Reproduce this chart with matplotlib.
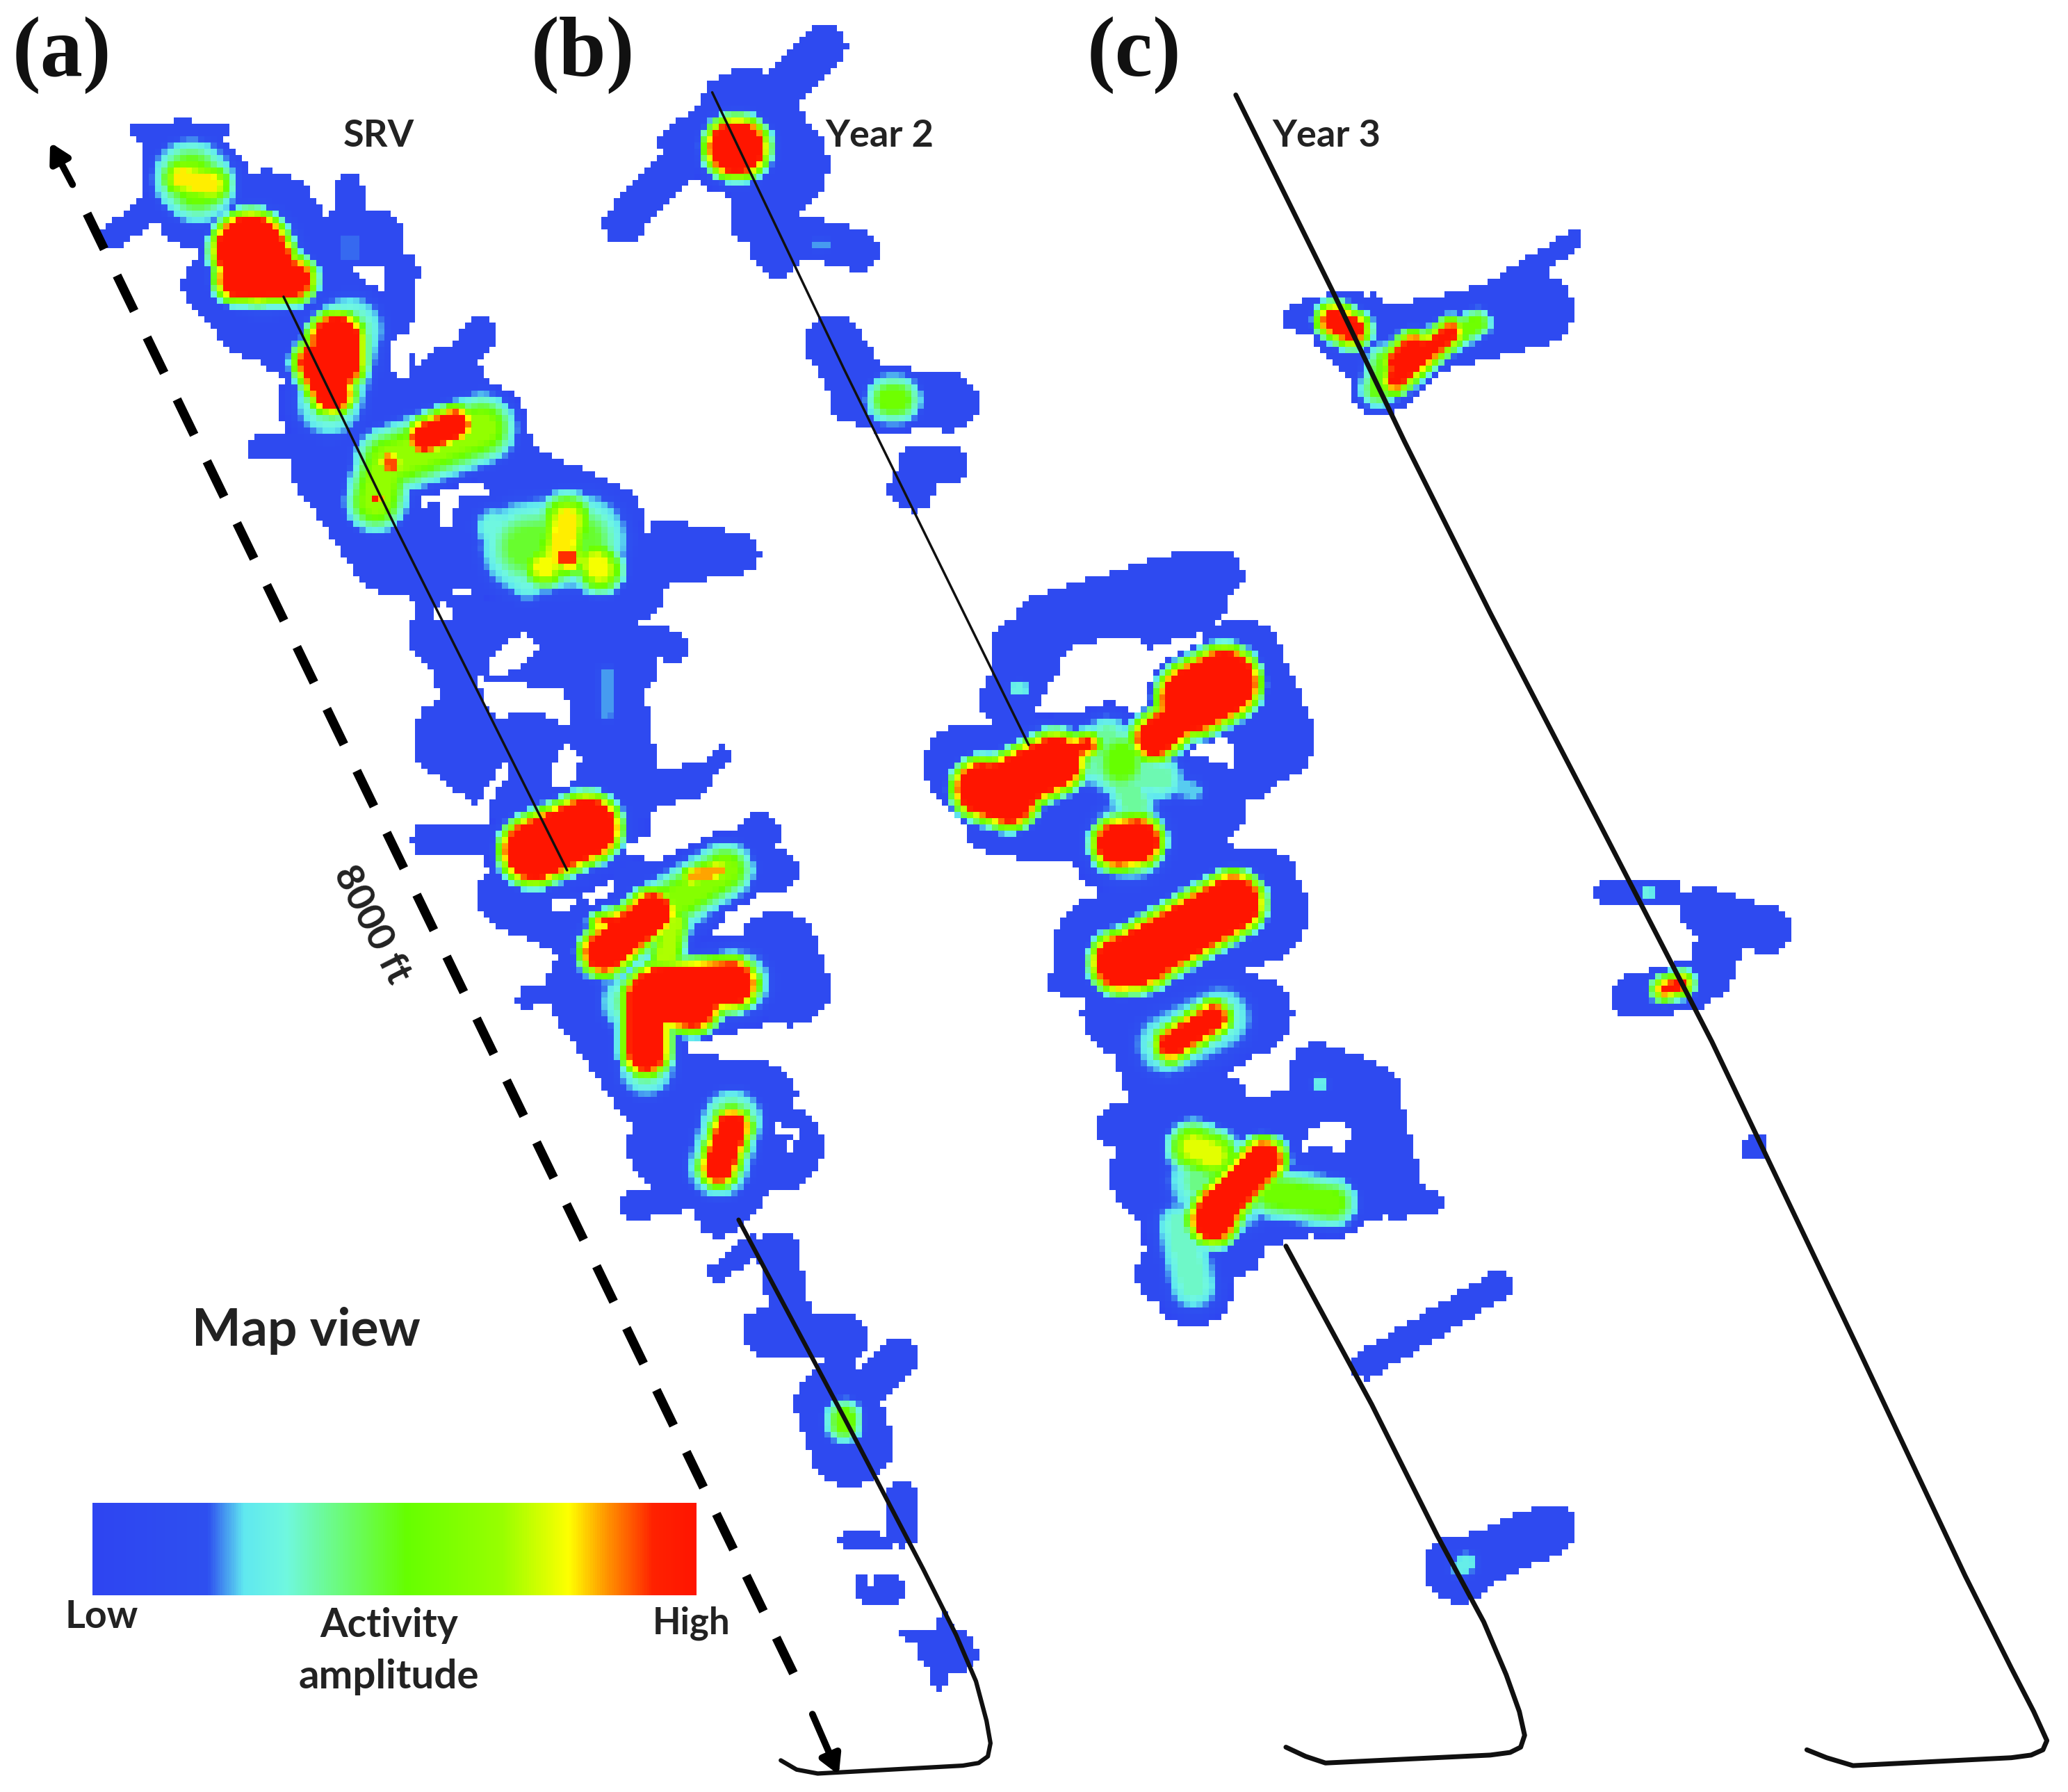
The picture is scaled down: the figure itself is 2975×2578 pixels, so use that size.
import numpy as np
import matplotlib
matplotlib.use('Agg')
from matplotlib import pyplot as plt
from matplotlib.colors import LinearSegmentedColormap

# activity patches, picture units (1568 wide)
# each one is x0, y0, x1, y1, radius, amplitude
srv_patches = [
    # low activity
    (108, 100, 165, 100, 8, .1), (140, 125, 150, 155, 34, .1), (85, 180, 125, 150, 10, .1),
    (265, 140, 265, 195, 10, .1), (245, 185, 285, 180, 22, .1), (200, 175, 225, 240, 46, .1),
    (160, 215, 190, 250, 22, .1), (305, 205, 295, 280, 13, .1), (240, 240, 290, 320, 46, .1),
    (365, 252, 325, 305, 13, .1), (340, 290, 395, 365, 26, .1), (198, 340, 260, 340, 10, .1),
    (255, 350, 300, 415, 36, .1), (385, 355, 465, 390, 22, .1), (350, 410, 470, 440, 36, .1),
    (505, 410, 560, 420, 16, .1), (475, 430, 540, 425, 14, .1), (325, 440, 350, 530, 16, .1),
    (340, 480, 470, 500, 30, .1), (460, 480, 510, 490, 12, .1), (455, 500, 470, 590, 30, .1),
    (345, 560, 400, 600, 32, .1), (325, 636, 400, 636, 13, .1), (400, 560, 480, 600, 22, .1),
    (490, 600, 525, 592, 13, .1), (548, 572, 525, 600, 7, .1), (385, 680, 430, 700, 24, .1),
    (400, 757, 455, 740, 8, .1), (575, 632, 545, 665, 16, .1), (590, 720, 600, 748, 30, .1),
    (480, 670, 590, 660, 16, .1), (445, 750, 500, 830, 32, .1), (500, 820, 580, 830, 24, .1),
    (480, 915, 530, 905, 11, .1), (510, 870, 590, 870, 34, .1), (545, 920, 565, 900, 18, .1),
    (570, 945, 545, 965, 8, .1), (590, 950, 600, 1000, 16, .1), (580, 1010, 640, 1015, 18, .1),
    (680, 1030, 660, 1050, 16, .1), (635, 1065, 645, 1095, 32, .1), (685, 1135, 685, 1160, 12, .1),
    (642, 1168, 680, 1170, 6, .1), (660, 1205, 672, 1205, 13, .1), (715, 1252, 720, 1252, 19, .1),
    (688, 1240, 740, 1256, 5, .1), (715, 1230, 712, 1275, 6, .1),
    # warmer patches
    (145, 135, 150, 140, 40, .6), (138, 135, 160, 140, 24, .8),
    (195, 190, 200, 205, 48, .42), (265, 250, 250, 305, 40, .42),
    (295, 350, 365, 325, 36, .66), (285, 380, 290, 360, 32, .66), (295, 350, 297, 352, 16, .9),
    (285, 378, 287, 378, 9, 1), (400, 415, 440, 410, 52, .48), (375, 400, 400, 440, 28, .32),
    (430, 395, 425, 420, 30, .8), (412, 430, 414, 430, 24, .78), (455, 432, 452, 428, 26, .78),
    (428, 422, 432, 424, 18, .92), (460, 510, 460, 540, 14, .22),
    (640, 1080, 640, 1075, 21, .55), (265, 190, 265, 185, 8, .2),
    (410, 645, 450, 628, 46, .25), (460, 720, 520, 680, 36, .42), (500, 690, 550, 660, 30, .62),
    (525, 665, 545, 660, 14, .84), (480, 760, 560, 745, 38, .42), (490, 770, 490, 810, 34, .4),
    (510, 700, 505, 725, 20, .7), (545, 885, 555, 850, 34, .5),
    # red cores
    (190, 190, 195, 200, 35, 1), (180, 212, 222, 212, 22, 1),
    (255, 258, 255, 275, 27, 1), (240, 275, 252, 298, 22, 1),
    (322, 332, 345, 322, 19, 1),
    (405, 645, 445, 628, 31, 1),
    (458, 722, 495, 692, 23, 1), (455, 700, 505, 685, 11, 1),
    (500, 750, 555, 746, 25, 1), (490, 755, 490, 798, 23, 1), (497, 755, 525, 760, 28, 1),
    (545, 885, 555, 855, 20, 1),
]

year2_patches = [
    (625, 35, 590, 70, 17, .1), (565, 90, 590, 125, 38, .1), (530, 105, 472, 170, 15, .1),
    (520, 110, 560, 90, 20, .1),
    (570, 170, 650, 190, 16, .1), (575, 150, 590, 190, 20, .1), (632, 260, 650, 290, 22, .1),
    (650, 300, 720, 305, 22, .1), (695, 352, 720, 352, 15, .1), (690, 370, 692, 372, 16, .1),
    (800, 480, 900, 450, 32, .1), (770, 490, 800, 480, 20, .1), (765, 530, 780, 500, 22, .1),
    (880, 440, 925, 435, 18, .1), (940, 500, 965, 560, 32, .1), (975, 565, 950, 590, 16, .1),
    (730, 580, 830, 570, 30, .1), (760, 620, 830, 625, 30, .1), (870, 600, 910, 610, 35, .1),
    (880, 660, 960, 670, 25, .1), (840, 720, 950, 690, 42, .1), (805, 745, 850, 745, 10, .1),
    (850, 770, 950, 770, 30, .1), (870, 800, 880, 830, 24, .1), (1000, 815, 1040, 830, 24, .1),
    (1040, 850, 1050, 890, 26, .1), (1000, 890, 1060, 905, 20, .1), (850, 855, 1000, 845, 18, .1),
    (880, 890, 950, 880, 38, .1), (1050, 908, 1085, 912, 10, .1), (885, 965, 935, 945, 24, .1),
    (960, 925, 1040, 905, 20, .1), (885, 815, 935, 830, 12, .1),
    # warmer patches
    (557, 112, 560, 112, 38, .5), (675, 303, 680, 303, 27, .55), (620, 185, 625, 185, 10, .22),
    (790, 570, 880, 590, 30, .36), (850, 575, 850, 580, 36, .52), (840, 560, 860, 610, 28, .38),
    (870, 590, 905, 600, 18, .24), (855, 638, 857, 638, 46, .42),
    (770, 522, 775, 522, 10, .3), (1000, 822, 1002, 822, 11, .28), (885, 792, 925, 772, 40, .36),
    (905, 870, 920, 876, 28, .76), (965, 905, 1010, 912, 28, .55), (895, 930, 905, 975, 32, .34),
    (915, 895, 935, 905, 46, .4),
    # red cores
    (557, 112, 560, 112, 28, 1),
    (755, 600, 800, 578, 28, 1), (745, 598, 765, 605, 28, 1), (800, 572, 825, 565, 14, 1),
    (875, 560, 900, 540, 22, 1), (905, 530, 928, 518, 33, 1),
    (848, 640, 862, 638, 25, 1),
    (860, 728, 935, 685, 29, 1), (850, 730, 870, 725, 28, 1),
    (888, 792, 920, 772, 18, 1),
    (925, 915, 958, 880, 22, 1), (920, 925, 925, 915, 24, 1),
]

year3_patches = [
    (985, 240, 1040, 235, 12, .1), (1020, 245, 1055, 285, 26, .1), (1060, 260, 1165, 235, 28, .1),
    (1130, 222, 1192, 183, 8, .1), (1220, 677, 1265, 677, 11, .1), (1290, 690, 1340, 705, 18, .1),
    (1305, 715, 1295, 740, 18, .1), (1240, 755, 1285, 748, 18, .1), (1333, 870, 1328, 870, 9, .1),
    (1035, 1035, 1135, 975, 11, .1), (1108, 1188, 1175, 1160, 20, .1), (1105, 1190, 1108, 1190, 26, .1),
    # warmer patches
    (1248, 677, 1250, 677, 10, .3), (1108, 1188, 1112, 1185, 17, .28), (1015, 245, 1020, 248, 24, .45),
    (1060, 280, 1120, 245, 17, .55), (1050, 275, 1045, 295, 22, .5),
    # red cores
    (1012, 243, 1025, 250, 18, 1), (1058, 288, 1100, 252, 15, 1), (1062, 275, 1072, 265, 18, 1),
    (1262, 750, 1275, 746, 13, 1),
]

# gaps inside the low activity areas: x0, y0, x1, y1, radius
gaps = [
    (305, 262, 305, 278, 7), (340, 380, 338, 392, 6), (398, 490, 378, 505, 9), (336, 464, 336, 466, 6),
    (405, 536, 412, 534, 7), (431, 575, 425, 590, 9), (363, 618, 382, 584, 4), (492, 639, 480, 645, 6),
    (422, 687, 430, 685, 5), (577, 796, 585, 800, 6), (598, 869, 600, 872, 3), (590, 855, 605, 860, 3),
    (825, 512, 852, 506, 23), (1000, 862, 1014, 860, 9), (668, 1180, 660, 1200, 3), (680, 1175, 690, 1190, 3),
]

# well paths
well_a_x = [215, 300, 430]
well_a_y = [225, 400, 660]
well_a_low_x = [560, 640, 700, 725, 740, 748, 751, 749, 742, 730, 620, 604, 592]
well_a_low_y = [925, 1075, 1190, 1240, 1275, 1305, 1322, 1332, 1337, 1339, 1345, 1342, 1335]
well_b_x = [540, 640, 780]
well_b_y = [70, 280, 565]
well_b_low_x = [975, 1040, 1090, 1125, 1142, 1152, 1156, 1153, 1145, 1130, 1005, 990, 975]
well_b_low_y = [945, 1065, 1165, 1230, 1270, 1298, 1316, 1325, 1329, 1331, 1337, 1332, 1325]
well_c_x = [937, 1010, 1065, 1130, 1213, 1298, 1410, 1490, 1525, 1542, 1552, 1549, 1540, 1525, 1405, 1385, 1370]
well_c_y = [72, 220, 335, 465, 625, 790, 1025, 1195, 1265, 1298, 1320, 1327, 1331, 1333, 1339, 1333, 1327]

bar_stops = [0, .19, .25, .32, .52, .68, .79, .85, .93, 1]
bar_colors = ['#2E45F2', '#2E50F0', '#60E8F0', '#70F8E0', '#66FF00', '#99FF00', '#FFFF00',
              '#FF9900', '#FF2200', '#FF1500']
cmap = LinearSegmentedColormap.from_list('activity', list(zip(bar_stops, bar_colors)))

# squared off blocks like the original map
pitch = 4.7
gx, gy = np.meshgrid(np.arange(0, 1568, pitch) + pitch / 2, np.arange(0, 1359, pitch) + pitch / 2)


def seg_dist(x0, y0, x1, y1):
    dx, dy = x1 - x0, y1 - y0
    t = ((gx - x0) * dx + (gy - y0) * dy) / max(dx * dx + dy * dy, 1e-6)
    t = np.clip(t, 0, 1)
    return np.hypot(gx - x0 - t * dx, gy - y0 - t * dy)


field = np.zeros_like(gx)
for patches in [srv_patches, year2_patches, year3_patches]:
    for x0, y0, x1, y1, r, amp in patches:
        d = seg_dist(x0, y0, x1, y1)
        if amp >= .95:
            r = r + 3
            rim = min(14, r)
        elif amp > .2:
            rim = .75 * r
        else:
            rim = .01
        field = np.maximum(field, amp * np.clip((r - d) / rim, 0, 1))

for x0, y0, x1, y1, r in gaps:
    d = seg_dist(x0, y0, x1, y1)
    field[(d < r) & (field < .2)] = 0

fig = plt.figure(figsize=(29.75, 25.78), dpi=100)
ax = fig.add_axes([0, 0, 1, 1])
ax.imshow(np.ma.masked_less(field, .02), cmap=cmap, vmin=0, vmax=1, extent=(0, gx.shape[1] * pitch, gx.shape[0] * pitch, 0),
          interpolation='nearest', aspect='auto', zorder=1)

for xs, ys, lw in [(well_a_x, well_a_y, 2.5), (well_a_low_x, well_a_low_y, 4.5),
                   (well_b_x, well_b_y, 2.5), (well_b_low_x, well_b_low_y, 5),
                   (well_c_x, well_c_y, 5)]:
    ax.plot(xs, ys, color='#101010', lw=lw, solid_capstyle='round', solid_joinstyle='round', zorder=2)

# 8000 ft dashed arrow
ax.plot([66, 606], [162, 1278], color='black', lw=9.5, dashes=(4.3, 3.2), zorder=3)
ax.annotate('', xy=(38, 108), xytext=(55, 140), arrowprops=dict(arrowstyle='-|>,head_width=.9,head_length=1.6', lw=7, color='black', shrinkA=0, shrinkB=0), zorder=3)
ax.annotate('', xy=(636, 1346), xytext=(616, 1300), arrowprops=dict(arrowstyle='-|>,head_width=.9,head_length=1.6', lw=7, color='black', shrinkA=0, shrinkB=0), zorder=3)

# colour bar
ax.imshow(np.linspace(0, 1, 256).reshape(1, -1), cmap=cmap, vmin=0, vmax=1, extent=(70, 528, 1210, 1140), aspect='auto', zorder=1)

ax.set_xlim(0, 1568)
ax.set_ylim(1359, 0)
ax.axis('off')

for s, x in [('(a)', 47), ('(b)', 442), ('(c)', 860)]:
    ax.text(x, 42, s, family='Liberation Serif', weight='bold', fontsize=88, ha='center', va='center', color='#111111')
for s, x in [('SRV', 287), ('Year 2', 667), ('Year 3', 1006)]:
    ax.text(x, 103, s, family='Lato', weight='bold', fontsize=39, ha='center', va='center', color='#222222')
ax.text(232, 1009, 'Map view', family='Lato', weight='bold', fontsize=54, ha='center', va='center', color='#222222')
ax.text(77, 1226, 'Low', family='Lato', weight='bold', fontsize=40, ha='center', va='center', color='#222222')
ax.text(524, 1231, 'High', family='Lato', weight='bold', fontsize=38, ha='center', va='center', color='#222222')
ax.text(295, 1233, 'Activity', family='Lato', weight='bold', fontsize=41, ha='center', va='center', color='#222222')
ax.text(295, 1272, 'amplitude', family='Lato', weight='bold', fontsize=42, ha='center', va='center', color='#222222')
ax.text(282, 701, '8000 ft', family='Lato', weight='bold', fontsize=40, ha='center', va='center', rotation=-63,
        rotation_mode='anchor', color='#222222')

plt.savefig('out.png', dpi=100)
